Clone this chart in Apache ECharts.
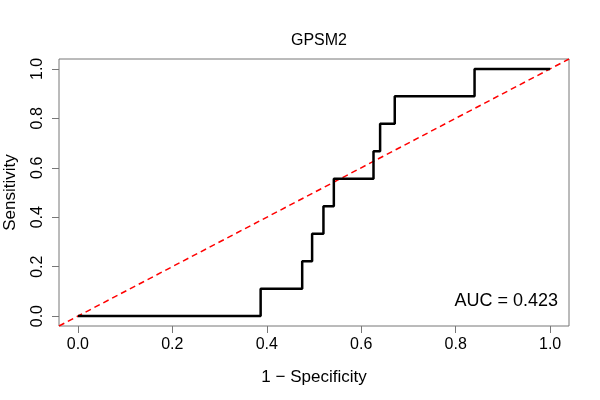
<!DOCTYPE html>
<html>
<head>
<meta charset="utf-8">
<script src="https://cdn.jsdelivr.net/npm/echarts@6/dist/echarts.min.js"></script>
<style>
  html, body { margin: 0; padding: 0; background: #fff; }
  #chart { width: 600px; height: 400px; }
</style>
</head>
<body>
<div id="chart"></div>
<script>
// ROC curve points (1 - specificity, sensitivity)
var fpr = [0, 0.387, 0.475, 0.496, 0.520, 0.542, 0.626, 0.640, 0.671, 0.840, 1.0];
var tpr = [0, 0.111, 0.222, 0.333, 0.444, 0.556, 0.667, 0.778, 0.889, 1.0, 1.0];
var tickValues = [0, 0.2, 0.4, 0.6, 0.8, 1.0];
var chartTitle = 'GPSM2';
var aucText = 'AUC = 0.423';

var font = "'Liberation Sans', Arial, sans-serif";
var rocData = fpr.map(function (x, i) { return [x, tpr[i]]; });

var myChart = echarts.init(document.getElementById('chart'));
var option = {
    backgroundColor: '#fff',
    animation: false,
    title: {
        text: chartTitle,
        left: 314,
        top: 28,
        textAlign: 'center',
        textStyle: { fontFamily: font, fontSize: 16, fontWeight: 'normal', color: '#000' }
    },
    grid: {
        left: 59, right: 31, top: 59, bottom: 74,
        outerBoundsMode: 'none',
        show: true, borderColor: '#777', borderWidth: 1
    },
    xAxis: {
        type: 'value', min: -0.04, max: 1.04,
        name: '1 \u2212 Specificity', nameLocation: 'middle', nameGap: 43,
        nameTextStyle: { fontFamily: font, fontSize: 17, color: '#000' },
        axisLine: { show: false, onZero: false },
        splitLine: { show: false },
        axisTick: { show: true, length: 7, customValues: tickValues, lineStyle: { color: '#777' } },
        axisLabel: {
            customValues: tickValues, margin: 11,
            fontFamily: font, fontSize: 16, color: '#000',
            formatter: function (v) { return v.toFixed(1); }
        }
    },
    yAxis: {
        type: 'value', min: -0.04, max: 1.04,
        name: 'Sensitivity', nameLocation: 'middle', nameGap: 40,
        nameTextStyle: { fontFamily: font, fontSize: 17, color: '#000' },
        axisLine: { show: false, onZero: false },
        splitLine: { show: false },
        axisTick: { show: true, length: 7, customValues: tickValues, lineStyle: { color: '#777' } },
        axisLabel: {
            customValues: tickValues, margin: 13, rotate: 90,
            fontFamily: font, fontSize: 16, color: '#000',
            formatter: function (v) { return v.toFixed(1); }
        }
    },
    graphic: [{
        type: 'text',
        right: 42,
        top: 292,
        style: { text: aucText, font: '18px ' + font, fill: '#000' }
    }],
    series: [
        {
            type: 'line',
            data: [[-0.04, -0.04], [1.04, 1.04]],
            symbol: 'none',
            lineStyle: { color: '#ff0000', width: 1.5, type: [6, 4] },
            silent: true
        },
        {
            type: 'line',
            data: rocData,
            step: 'end',
            symbol: 'none',
            lineStyle: { color: '#000', width: 2.5 },
            silent: true
        }
    ]
};
myChart.setOption(option);
</script>
</body>
</html>
